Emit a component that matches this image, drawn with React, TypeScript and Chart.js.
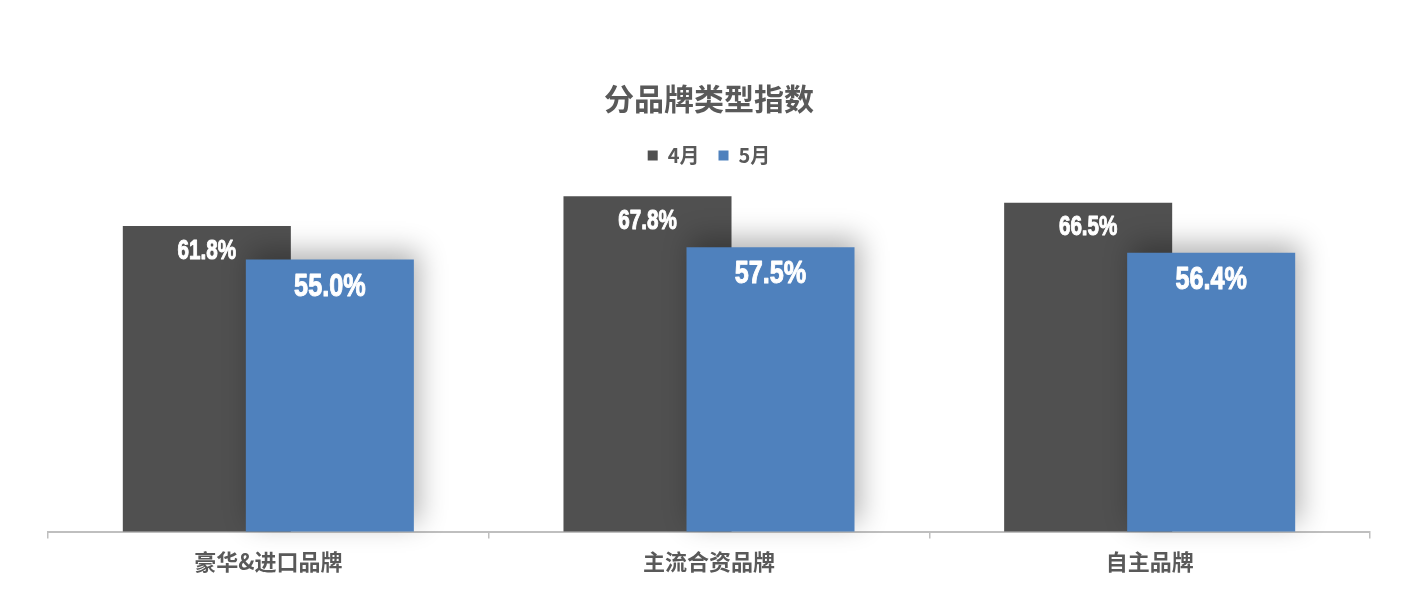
import React, { useEffect, useRef } from "react";
import { Chart, registerables } from "chart.js";

Chart.register(...registerables);

const categories: string[] = ["豪华&进口品牌", "主流合资品牌", "自主品牌"];
const seriesNames: string[] = ["4月", "5月"];
const aprilValues: number[] = [61.8, 67.8, 66.5];
const mayValues: number[] = [55.0, 57.5, 56.4];
const titleText = "分品牌类型指数";

const COLORS = ["#505050", "#4F81BD"];
const CJK = "'Noto Sans CJK SC', 'Noto Sans', sans-serif";

// per-dataset label style: font size, horizontal squeeze, vertical stretch, offset below bar top
const LABEL_STYLE = [
  { size: 24, sx: 0.86, sy: 1.17, off: 25 },
  { size: 28, sx: 0.9, sy: 1.12, off: 27.5 },
];

const barFx = {
  id: "barFx",
  beforeDatasetsDraw(chart: any) {
    const ctx = chart.ctx as CanvasRenderingContext2D;
    for (let i = 0; i < chart.data.datasets.length; i++) {
      const meta = chart.getDatasetMeta(i);
      if (meta.hidden) continue;
      ctx.save();
      if (i === 1) {
        ctx.shadowColor = "rgba(0,0,0,0.3)";
        ctx.shadowBlur = 26;
        ctx.shadowOffsetX = 5;
        ctx.shadowOffsetY = -9;
      }
      meta.controller.draw();
      ctx.restore();
    }
    return false;
  },
  afterDraw(chart: any) {
    const ctx = chart.ctx as CanvasRenderingContext2D;
    chart.data.datasets.forEach((ds: any, di: number) => {
      const meta = chart.getDatasetMeta(di);
      const st = LABEL_STYLE[di];
      meta.data.forEach((el: any, i: number) => {
        const v = ds.data[i] as number;
        const txt = `${v.toFixed(1)}%`;
        ctx.save();
        ctx.translate(el.x, el.y + st.off);
        ctx.scale(st.sx, st.sy);
        ctx.font = `bold ${st.size}px 'Liberation Sans', Arial, sans-serif`;
        ctx.fillStyle = "#FFFFFF";
        ctx.strokeStyle = "#FFFFFF";
        ctx.lineWidth = 0.9;
        ctx.lineJoin = "round";
        ctx.textAlign = "center";
        ctx.textBaseline = "middle";
        ctx.fillText(txt, 0, 0);
        ctx.strokeText(txt, 0, 0);
        ctx.restore();
      });
    });
  },
};

export default function App() {
  const ref = useRef<HTMLCanvasElement | null>(null);

  useEffect(() => {
    document.body.style.margin = "0";
    const canvas = ref.current;
    if (!canvas) return;
    const chart = new Chart(canvas, {
      type: "bar",
      data: {
        labels: categories,
        datasets: [
          {
            label: seriesNames[0],
            data: aprilValues,
            backgroundColor: COLORS[0],
            borderWidth: 0,
            categoryPercentage: 0.5583,
            barPercentage: 1.366,
          },
          {
            label: seriesNames[1],
            data: mayValues,
            backgroundColor: COLORS[1],
            borderWidth: 0,
            categoryPercentage: 0.5583,
            barPercentage: 1.366,
          },
        ],
      },
      options: {
        responsive: false,
        animation: false,
        events: [],
        layout: { padding: { top: 80.5, left: 48, right: 48, bottom: 5 } },
        plugins: {
          title: {
            display: true,
            text: titleText,
            color: "#595959",
            font: { family: CJK, size: 30, weight: "bold" },
            padding: { top: 0, bottom: 10 },
          },
          legend: {
            display: true,
            position: "top",
            labels: {
              color: "#595959",
              font: { family: CJK, size: 20, weight: "bold" },
              boxWidth: 10,
              boxHeight: 10,
              padding: 19,
            },
          },
          tooltip: { enabled: false },
        },
        scales: {
          x: {
            offset: true,
            grid: {
              display: true,
              drawOnChartArea: false,
              drawTicks: true,
              tickLength: 7,
              color: "#BFBFBF",
              lineWidth: 1.5,
              offset: true,
            },
            border: { display: true, color: "#BFBFBF", width: 2 },
            ticks: {
              color: "#595959",
              font: { family: CJK, size: 22, weight: "bold" },
              padding: 10,
            },
          },
          y: { display: false, min: 0, max: 72 },
        },
      },
      plugins: [barFx],
    });
    return () => chart.destroy();
  }, []);

  return <canvas ref={ref} width={1418} height={590} style={{ display: "block" }} />;
}
